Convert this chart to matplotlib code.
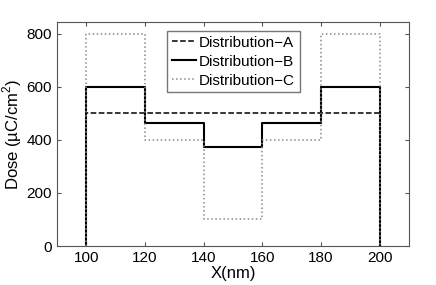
import matplotlib
matplotlib.use('Agg')
import matplotlib.pyplot as plt

plt.rcParams['font.family'] = ['Liberation Sans', 'DejaVu Sans']
plt.rcParams['mathtext.fontset'] = 'custom'
plt.rcParams['mathtext.rm'] = 'Liberation Sans'

# segment edges (nm) and dose levels per segment
edges = [100, 120, 140, 160, 180, 200]
dose_a = [500, 500, 500, 500, 500]
dose_b = [600, 463, 375, 463, 600]
dose_c = [800, 400, 100, 400, 800]
labels = ['Distribution\u2212A', 'Distribution\u2212B', 'Distribution\u2212C']


def profile(levels):
    xs = [edges[0]]
    ys = [0]
    for i, v in enumerate(levels):
        xs += [edges[i], edges[i + 1]]
        ys += [v, v]
    xs.append(edges[-1])
    ys.append(0)
    return xs, ys


fig = plt.figure(figsize=(4.36, 2.85), dpi=100)
ax = fig.add_axes([57 / 436, 1 - 246 / 285, (409 - 57) / 436, (246 - 22) / 285])

xa, ya = profile(dose_a)
xb, yb = profile(dose_b)
xc, yc = profile(dose_c)
ax.plot(xa, ya, color='black', linestyle='--', linewidth=1.1, label=labels[0])
ax.plot(xb, yb, color='black', linestyle='-', linewidth=1.5, label=labels[1])
ax.plot(xc, yc, color='#888888', linestyle=':', linewidth=1.1, label=labels[2])

ax.set_xlim(90, 210)
ax.set_ylim(0, 845)
ax.set_xticks([100, 120, 140, 160, 180, 200])
ax.set_yticks([0, 200, 400, 600, 800])
ax.tick_params(direction='in', top=True, right=True, labelsize=11,
               color='#555555', length=3)
for s in ax.spines.values():
    s.set_color('#555555')

ax.set_xlabel('X(nm)', fontsize=12, labelpad=1)
ax.set_ylabel('Dose (\u00b5C/cm$^2$)', fontsize=12, labelpad=2)

leg = ax.legend(loc='upper left', bbox_to_anchor=((167 - 57) / 352, 1 - 9 / 224),
                fontsize=11, frameon=True, fancybox=False, handlelength=1.6,
                handletextpad=0.2, borderpad=0.3, labelspacing=0.33,
                borderaxespad=0)
leg.get_frame().set_edgecolor('#555555')
leg.get_frame().set_linewidth(1.0)

fig.savefig('out.png', dpi=100)
